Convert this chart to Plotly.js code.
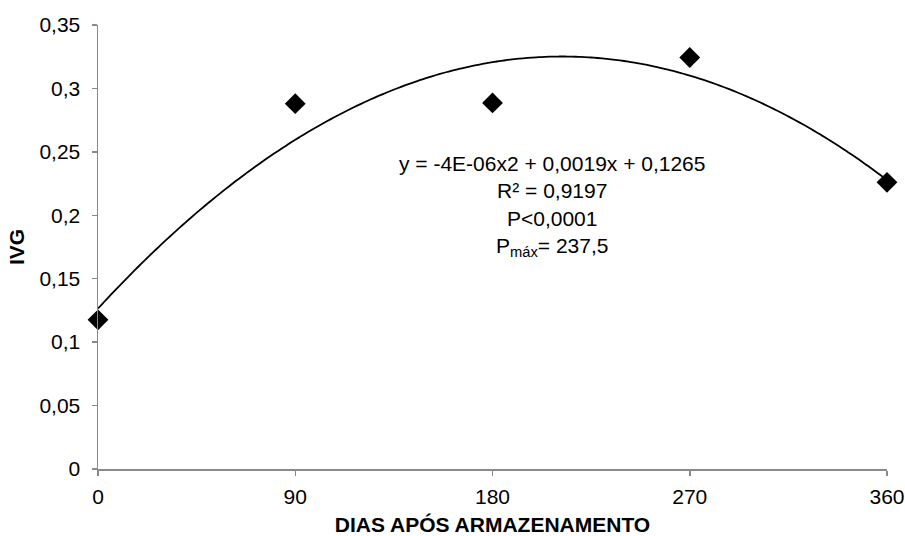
<!DOCTYPE html>
<html>
<head>
<meta charset="utf-8">
<script src="https://cdn.plot.ly/plotly-3.0.1.min.js"></script>
<style>html,body{margin:0;padding:0;background:#fff;}#chart{width:905px;height:536px;}</style>
</head>
<body>
<div id="chart"></div>
<script>
// Data
var dias = [0, 90, 180, 270, 360];
var ivg = [0.1176, 0.288, 0.2886, 0.3244, 0.226];

var xTickVals = [0, 90, 180, 270, 360];
var xTickText = ["0", "90", "180", "270", "360"];
var yTickVals = [0, 0.05, 0.1, 0.15, 0.2, 0.25, 0.3, 0.35];
var yTickText = ["0", "0,05", "0,1", "0,15", "0,2", "0,25", "0,3", "0,35"];

var eqLines = [
  "y = -4E-06x2 + 0,0019x + 0,1265",
  "R² = 0,9197",
  "P<0,0001",
  "P<sub>máx</sub>= 237,5"
];

// Quadratic least-squares trendline computed from the data (as the spreadsheet does)
function quadFit(xs, ys) {
  var n = xs.length, s = [0,0,0,0,0], t = [0,0,0];
  for (var i = 0; i < n; i++) {
    var p = 1;
    for (var k = 0; k < 5; k++) { s[k] += p; if (k < 3) t[k] += p * ys[i]; p *= xs[i]; }
  }
  var M = [[s[0], s[1], s[2], t[0]], [s[1], s[2], s[3], t[1]], [s[2], s[3], s[4], t[2]]];
  for (var c = 0; c < 3; c++) {
    for (var r = c + 1; r < 3; r++) {
      var f = M[r][c] / M[c][c];
      for (var j = c; j < 4; j++) M[r][j] -= f * M[c][j];
    }
  }
  var coef = [0,0,0];
  for (var r2 = 2; r2 >= 0; r2--) {
    var v = M[r2][3];
    for (var j2 = r2 + 1; j2 < 3; j2++) v -= M[r2][j2] * coef[j2];
    coef[r2] = v / M[r2][r2];
  }
  return coef;
}
var cf = quadFit(dias, ivg);
var curveX = [], curveY = [];
for (var x = dias[0]; x <= dias[dias.length - 1]; x += 2) {
  curveX.push(x);
  curveY.push(cf[0] + cf[1] * x + cf[2] * x * x);
}

var font = "Liberation Sans, Arial, sans-serif";
var axisColor = "#8a8a8a";
var fs = 21;

var traces = [
  {
    x: curveX, y: curveY, type: "scatter", mode: "lines",
    line: {color: "#000", width: 1.8, shape: "spline"},
    hoverinfo: "skip", showlegend: false, cliponaxis: false
  },
  {
    x: dias, y: ivg, type: "scatter", mode: "markers",
    marker: {symbol: "diamond", size: 16, color: "#000"},
    showlegend: false, cliponaxis: false
  }
];

var layout = {
  width: 905, height: 536,
  margin: {l: 98, r: 18, t: 25, b: 67},
  paper_bgcolor: "#fff", plot_bgcolor: "#fff",
  font: {family: font, size: fs, color: "#000"},
  showlegend: false,
  xaxis: {
    range: [0, 360], tickvals: xTickVals, ticktext: xTickText,
    showgrid: false, zeroline: false,
    showline: true, linecolor: axisColor, linewidth: 1.5,
    ticks: "outside", ticklen: 5, tickcolor: axisColor, tickwidth: 1.5,
    ticklabelstandoff: 3,
    tickfont: {family: font, size: fs, color: "#000"},
    title: {text: "<b>DIAS APÓS ARMAZENAMENTO</b>", font: {family: font, size: fs, color: "#000"}, standoff: 17},
    automargin: false
  },
  yaxis: {
    range: [0, 0.35], tickvals: yTickVals, ticktext: yTickText,
    showgrid: false, zeroline: false,
    showline: true, linecolor: axisColor, linewidth: 1.5,
    ticks: "outside", ticklen: 5, tickcolor: axisColor, tickwidth: 1.5,
    ticklabelstandoff: 7,
    tickfont: {family: font, size: fs, color: "#000"},
    title: {text: "<b>IVG</b>", font: {family: font, size: fs, color: "#000"}, standoff: 9},
    automargin: false
  },
  annotations: [{
    x: 207, y: 0.207, xref: "x", yref: "y",
    text: eqLines.join("<br>"), showarrow: false, align: "center",
    font: {family: font, size: fs, color: "#000"}
  }]
};

Plotly.newPlot("chart", traces, layout, {displayModeBar: false, staticPlot: true});
</script>
</body>
</html>
